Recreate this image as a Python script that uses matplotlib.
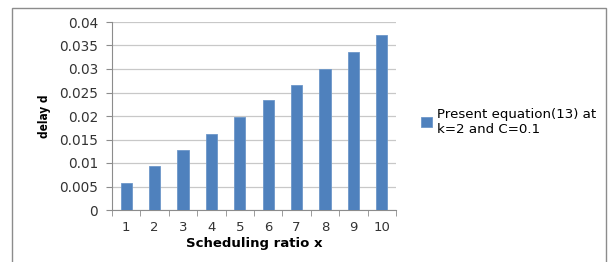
import matplotlib
matplotlib.use("Agg")
import matplotlib.pyplot as plt
from matplotlib.patches import Rectangle

x_labels = ["1", "2", "3", "4", "5", "6", "7", "8", "9", "10"]
delay = [0.0058, 0.0094, 0.0128, 0.0162, 0.0197, 0.0233, 0.0266, 0.0301, 0.0337, 0.0373]
series_name = "Present equation(13) at\nk=2 and C=0.1"
y_ticks = [0, 0.005, 0.01, 0.015, 0.02, 0.025, 0.03, 0.035, 0.04]
y_tick_labels = ["0", "0.005", "0.01", "0.015", "0.02", "0.025", "0.03", "0.035", "0.04"]

fig = plt.figure(figsize=(6.14, 2.62), dpi=100)
fig.patch.set_facecolor("white")
# outer chart border
fig.patches.append(Rectangle((12/614, -0.05), (606-12)/614, 1.05 - 7.5/262,
                             transform=fig.transFigure, fill=False,
                             edgecolor="#8c8c8c", linewidth=1.0))

ax = fig.add_axes([112/614, 1-210/262, (396-112)/614, (210-22)/262])
pos = list(range(len(x_labels)))
ax.bar(pos, delay, width=0.4, color="#4F81BD", edgecolor="#6d97c9",
       linewidth=0.6, label=series_name, zorder=3)
ax.set_xlim(-0.5, len(x_labels) - 0.5)
ax.set_ylim(0, 0.04)
ax.set_yticks(y_ticks)
ax.set_yticklabels(y_tick_labels, fontsize=9.8, color="#333333")
ax.set_xticks(pos)
ax.set_xticklabels(x_labels, fontsize=9.5, color="#333333")
ax.set_xticks([p - 0.5 for p in pos] + [len(x_labels) - 0.5], minor=True)
ax.tick_params(axis="x", which="major", length=0, pad=8)
ax.tick_params(axis="x", which="minor", length=4, color="#8c8c8c", direction="out")
ax.tick_params(axis="y", length=4, color="#8c8c8c", direction="out", pad=6)
ax.grid(axis="y", color="#c8c8c8", linewidth=0.9, zorder=0)
for s in ["top", "right"]:
    ax.spines[s].set_visible(False)
for s in ["left", "bottom"]:
    ax.spines[s].set_color("#8c8c8c")
ax.set_ylabel("delay d", fontsize=8.5, fontweight="bold", fontstretch="condensed", labelpad=6)
ax.set_xlabel("Scheduling ratio x", fontsize=9.5, fontweight="bold", labelpad=2)

ax.legend(loc="center left", bbox_to_anchor=(1.07, 0.47), frameon=False,
          fontsize=9.6, handlelength=0.8, handleheight=0.8, handletextpad=0.4,
          borderaxespad=0)

fig.savefig("out.png", dpi=100)
